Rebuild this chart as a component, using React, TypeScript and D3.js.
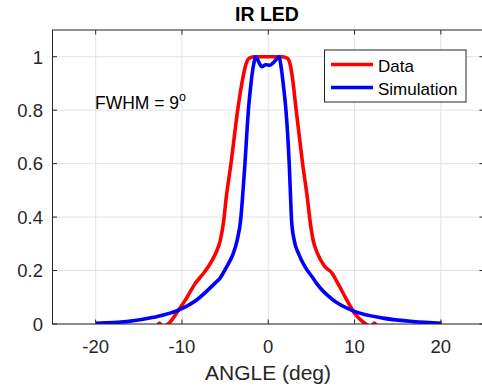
import React from 'react';
import * as d3 from 'd3';

const xTicks = [-20, -10, 0, 10, 20];
const yTicks = [0, 0.2, 0.4, 0.6, 0.8, 1];
const yTickLabels = ['0', '0.2', '0.4', '0.6', '0.8', '1'];

const dataAngle = [-12.9, -12.6, -12.3, -11.6, -10.4, -9.5, -8.5, -7.5, -6.9, -6.1, -5.55, -5.15, -4.9, -4.32, -3.5, -3.0, -2.6, -2.2, -1.5, 0, 1.5, 2.2, 2.55, 2.85, 3.2, 3.98, 4.56, 4.83, 5.2, 5.7, 6.5, 7.4, 8.1, 9.1, 10.0, 11.3, 11.9, 12.3, 12.6];
const dataValue = [-0.01, 0.004, -0.01, 0.0, 0.052, 0.095, 0.15, 0.19, 0.217, 0.264, 0.314, 0.389, 0.464, 0.6, 0.81, 0.91, 0.97, 0.995, 1.0, 1.0, 1.0, 0.995, 0.97, 0.91, 0.81, 0.6, 0.464, 0.389, 0.314, 0.264, 0.217, 0.19, 0.15, 0.09, 0.04, 0.0, -0.01, 0.004, -0.01];

const simAngle = [-20, -16.4, -13.3, -10.4, -8.3, -6.2, -5.6, -4.8, -4.05, -3.6, -3.2, -3.0, -2.7, -2.3, -2.0, -1.7, -1.43, -1.1, -0.75, -0.3, 0.2, 0.5, 0.8, 1.24, 1.5, 1.8, 2.05, 2.43, 2.6, 2.7, 3.0, 3.5, 4.25, 5.2, 5.6, 7.5, 10, 13.3, 16.8, 20.1];
const simValue = [0.003, 0.009, 0.025, 0.052, 0.09, 0.152, 0.171, 0.215, 0.264, 0.314, 0.389, 0.464, 0.6, 0.8, 0.9, 0.97, 1.0, 0.98, 0.963, 0.97, 0.968, 0.975, 0.985, 1.0, 0.96, 0.88, 0.8, 0.6, 0.464, 0.389, 0.314, 0.264, 0.215, 0.171, 0.152, 0.09, 0.047, 0.022, 0.009, 0.003];

const seriesNames = ['Data', 'Simulation'];
const seriesColors = ['#ff0000', '#0000ff'];

const FONT = '"Liberation Sans", Arial, Helvetica, sans-serif';
const AX = '#262626';
const GRID = '#e3e3e3';

export default function App() {
  const W = 482, H = 392;
  const x = d3.scaleLinear().domain([-25, 25]).range([52.5, 484]);
  const y = d3.scaleLinear().domain([0, 1.1]).range([324, 30]);
  const [x0, x1] = x.range();
  const [y0, y1] = y.range();

  const line = d3.line<[number, number]>()
    .x(d => x(d[0]))
    .y(d => y(d[1]))
    .curve(d3.curveMonotoneX);

  const dataPts = dataAngle.map((a, i) => [a, dataValue[i]] as [number, number]);
  const simPts = simAngle.map((a, i) => [a, simValue[i]] as [number, number]);

  const tickLen = 4.5;
  const LW = 3.6;

  return (
    <svg width={W} height={H} style={{ position: 'absolute', left: 0, top: 0, background: '#fff' }} fontFamily={FONT}>
      <defs>
        <clipPath id="plotclip">
          <rect x={x0} y={y1} width={x1 - x0} height={y0 - y1} />
        </clipPath>
      </defs>
      <rect x={0} y={0} width={W} height={H} fill="#fff" />
      {xTicks.map(t => (
        <line key={'gx' + t} x1={x(t)} x2={x(t)} y1={y0} y2={y1} stroke={GRID} strokeWidth={1} />
      ))}
      {yTicks.map(t => (
        <line key={'gy' + t} x1={x0} x2={x1} y1={y(t)} y2={y(t)} stroke={GRID} strokeWidth={1} />
      ))}
      <g clipPath="url(#plotclip)">
        <path d={line(dataPts) || ''} fill="none" stroke={seriesColors[0]} strokeWidth={LW} strokeLinejoin="round" />
        <path d={line(simPts) || ''} fill="none" stroke={seriesColors[1]} strokeWidth={LW} strokeLinejoin="round" />
      </g>
      <rect x={x0} y={y1} width={x1 - x0} height={y0 - y1} fill="none" stroke={AX} strokeWidth={1} />
      {xTicks.map(t => (
        <g key={'tx' + t}>
          <line x1={x(t)} x2={x(t)} y1={y0} y2={y0 - tickLen} stroke={AX} />
          <line x1={x(t)} x2={x(t)} y1={y1} y2={y1 + tickLen} stroke={AX} />
          <text x={x(t)} y={352.7} textAnchor="middle" fontSize={18.5} fill={AX}>{t}</text>
        </g>
      ))}
      {yTicks.map((t, i) => (
        <g key={'ty' + t}>
          <line x1={x0} x2={x0 + tickLen} y1={y(t)} y2={y(t)} stroke={AX} />
          <line x1={x1} x2={x1 - tickLen} y1={y(t)} y2={y(t)} stroke={AX} />
          <text x={43} y={y(t) + 6.8} textAnchor="end" fontSize={18.5} fill={AX}>{yTickLabels[i]}</text>
        </g>
      ))}
      <text x={267} y={20.7} textAnchor="middle" fontSize={19.5} fontWeight="bold" fill="#000">IR LED</text>
      <text x={268} y={380} textAnchor="middle" fontSize={21} fill={AX}>ANGLE (deg)</text>
      <text x={95} y={108.5} fontSize={17.5} fill="#000">
        FWHM = 9<tspan dy={-8} fontSize={12.5}>o</tspan>
      </text>
      <rect x={324.5} y={50} width={141.5} height={52} fill="#fff" stroke={AX} strokeWidth={1} />
      {seriesNames.map((n, i) => (
        <g key={n}>
          <line x1={331} x2={373} y1={64.5 + i * 23} y2={64.5 + i * 23} stroke={seriesColors[i]} strokeWidth={LW} />
          <text x={378} y={71.5 + i * 23} fontSize={17} fill="#000">{n}</text>
        </g>
      ))}
    </svg>
  );
}
